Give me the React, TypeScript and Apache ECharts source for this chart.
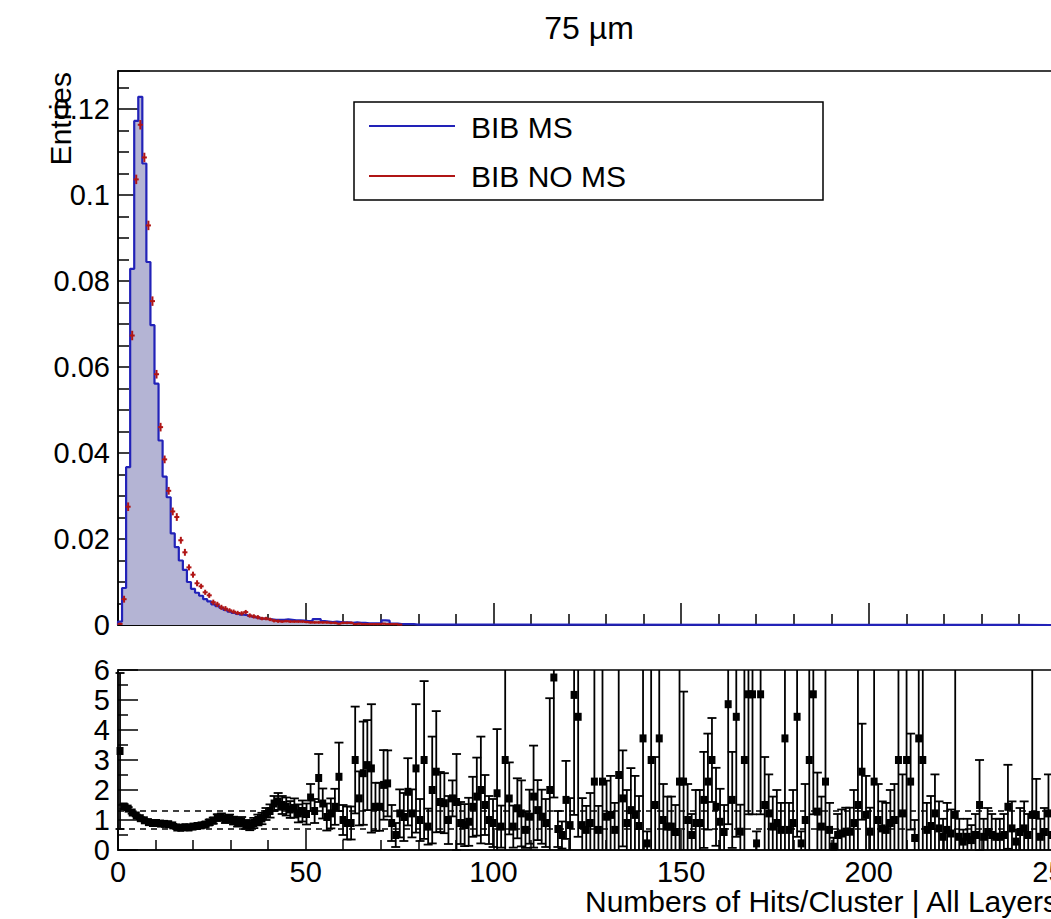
import React, { useEffect, useRef } from "react";
import * as echarts from "echarts";

// ---------- data ----------
const TITLE = "75 \u00b5m";
const X_TITLE = "Numbers of Hits/Cluster | All Layers";
const Y_TITLE = "Entries";
const SERIES_NAMES = ["BIB MS", "BIB NO MS"];
const BIN_WIDTH = 1.08;
const X_MIN = 0;
const X_MAX = 250;
const X_INTERVAL = 50;
const TOP_Y_MAX = 0.1288;
const TOP_Y_INTERVAL = 0.02;
const RATIO_Y_MAX = 6;
const RATIO_BANDS = [0.7, 1.3];

// BIB MS (blue, filled histogram), per bin
const BLUE_MS = [
  0.0008, 0.0086, 0.0367, 0.0828, 0.1172, 0.1228, 0.1073, 0.0844, 0.0697, 0.0561,
  0.0429, 0.0345, 0.0297, 0.0213, 0.0181, 0.015, 0.0128, 0.01, 0.0084, 0.0075,
  0.0068, 0.006, 0.0055, 0.0048, 0.0044, 0.004, 0.0035, 0.0031, 0.0028, 0.0026,
  0.0024, 0.0023, 0.0021, 0.0019, 0.0017, 0.0015, 0.0014, 0.0013, 0.0012, 0.0012,
  0.0012, 0.0013, 0.0012, 0.0011, 0.0011, 0.001, 0.0009, 0.0009, 0.0014, 0.0014,
  0.0009, 0.0008, 0.0007, 0.0008, 0.0007, 0.0006, 0.0006, 0.0005, 0.0006, 0.0005,
  0.0005, 0.0004, 0.0004, 0.0004, 0.0004, 0.0011, 0.001, 0.0003, 0.0003, 0.0002,
  0.0002, 0.0002, 0.0002, 0.0001, 0.0001, 0.0001, 0.0001, 0.0001, 0.0001, 0.0001,
];

// BIB NO MS (red points), per bin
const RED_NO_MS = [
  0.00025, 0.006, 0.0275, 0.0673, 0.1036, 0.1163, 0.1087, 0.0929, 0.0753, 0.0583,
  0.046, 0.0385, 0.0312, 0.0264, 0.0251, 0.0197, 0.0169, 0.0134, 0.0117, 0.0097,
  0.009, 0.0076, 0.0069, 0.0053, 0.0048, 0.0041, 0.0038, 0.0034, 0.0031, 0.0028,
  0.0027, 0.003, 0.0022, 0.002, 0.0018, 0.0015, 0.0015, 0.0013, 0.001, 0.0009,
  0.0008, 0.0009, 0.0008, 0.0008, 0.0008, 0.0008, 0.0007, 0.0006, 0.0006, 0.0006,
  0.0006, 0.0006, 0.0005, 0.0005, 0.0003, 0.0005, 0.0005, 0.0005, 0.0002, 0.0003,
  0.0002, 0.0002, 0.0002, 0.0002, 0.0002, 0.0003, 0.0002, 0.0002, 0.0002, 0.0001,
];
const RED_ERR = [
  0.0003, 0.0008, 0.001, 0.0011, 0.0011, 0.0011, 0.0011, 0.0011, 0.0011, 0.001,
  0.001, 0.0009, 0.0009, 0.0009, 0.0009, 0.0008, 0.0008, 0.0007, 0.0007, 0.0007,
  0.0006, 0.0006, 0.0006, 0.0006, 0.0006, 0.0006, 0.0006, 0.0005, 0.0005, 0.0005,
  0.0005, 0.0005, 0.0005, 0.0005, 0.0005, 0.0004, 0.0004, 0.0004, 0.0004, 0.0004,
  0.0003, 0.0003, 0.0003, 0.0003, 0.0003, 0.0003, 0.0003, 0.0003, 0.0003, 0.0003,
  0.0003, 0.0003, 0.0003, 0.0003, 0.0002, 0.0003, 0.0003, 0.0003, 0.0002, 0.0002,
  0.0002, 0.0002, 0.0002, 0.0002, 0.0002, 0.0002, 0.0002, 0.0002, 0.0002, 0.0001,
];

// ratio MS / NO MS, per bin
const RATIO = [
  3.3, 1.45, 1.38, 1.25, 1.15, 1.06, 0.99, 0.93, 0.9, 0.9,
  0.88, 0.87, 0.86, 0.82, 0.75, 0.74, 0.76, 0.75, 0.78, 0.8,
  0.82, 0.85, 0.92, 0.98, 1.08, 1.1, 1.02, 1.05, 0.98, 0.92,
  0.95, 0.85, 0.82, 0.9, 1.0, 1.05, 1.2, 1.3, 1.55, 1.62,
  1.5, 1.45, 1.35, 1.4, 1.22, 1.3, 1.2, 1.75, 1.3, 2.4,
  1.55, 1.1, 1.22, 1.44, 2.44, 1.0, 0.9, 0.9, 3.0, 1.72,
  2.56, 2.83, 2.72, 1.44, 1.44, 2.17, 2.22, 0.9, 0.5, 1.22,
  1.1, 1.94, 1.22, 2.72, 1.0, 3.0, 0.78, 2.0, 2.61, 1.6,
  1.56, 1.0, 1.72, 1.6, 0.9, 0.83, 0.94, 1.44, 1.78, 2.0,
  1.5, 1.0, 0.9, 1.89, 0.78, 3.0, 1.72, 0.78, 1.39, 1.22,
  0.67, 1.11, 1.78, 1.33, 1.11, 0.9, 2.0, 5.75, 0.7, 0.5,
  1.67, 0.83, 5.17, 4.44, 0.83, 0.67, 0.9, 2.28, 0.67, 2.28,
  1.11, 1.17, 0.67, 2.5, 1.72, 0.9, 1.33, 1.17, 0.8, 3.72,
  0.22, 3.0, 1.5, 3.72, 1.0, 0.78, 0.78, 0.6, 2.28, 2.28,
  1.0, 0.5, 0.9, 0.9, 1.67, 2.28, 3.0, 1.44, 0.94, 0.6,
  4.86, 1.67, 4.44, 0.61, 3.0, 5.19, 5.19, 0.22, 5.19, 1.5,
  1.22, 0.78, 0.9, 0.67, 3.72, 0.67, 0.9, 4.44, 0.22, 1.0,
  3.0, 5.19, 1.28, 0.78, 2.28, 0.67, 0.11, 0.5, 0.55, 0.61,
  0.61, 0.9, 1.5, 2.61, 1.17, 0.61, 2.28, 1.0, 0.72, 0.67,
  0.9, 1.0, 3.0, 1.22, 3.0, 2.28, 0.4, 3.72, 3.0, 0.67,
  0.8, 1.22, 0.72, 0.44, 0.67, 0.55, 1.17, 0.44, 0.28, 0.44,
  0.33, 0.5, 1.5, 0.44, 0.6, 0.5, 0.44, 0.44, 0.5, 1.44,
  0.72, 0.28, 0.6, 0.72, 0.5, 1.17, 1.17, 0.44, 0.6, 1.22, 0.5,
];
const RATIO_ERR = [
  2.6, 0.08, 0.05, 0.04, 0.03, 0.03, 0.03, 0.03, 0.03, 0.03,
  0.04, 0.04, 0.04, 0.05, 0.05, 0.05, 0.06, 0.06, 0.07, 0.07,
  0.08, 0.08, 0.09, 0.1, 0.11, 0.12, 0.12, 0.13, 0.13, 0.14,
  0.15, 0.15, 0.16, 0.17, 0.18, 0.19, 0.2, 0.22, 0.25, 0.28,
  0.3, 0.3, 0.28, 0.32, 0.3, 0.35, 0.35, 0.45, 0.4, 0.8,
  0.5, 0.45, 0.5, 0.6, 1.14, 0.5, 0.55, 0.55, 1.78, 0.9,
  1.72, 1.5, 2.14, 0.8, 0.8, 1.16, 1.1, 0.6, 0.4, 0.8,
  0.8, 1.12, 0.8, 2.14, 0.7, 2.63, 0.6, 1.78, 2.02, 1.0,
  1.0, 0.8, 0.6, 1.6, 0.7, 0.7, 0.8, 1.0, 1.3, 1.78,
  1.0, 0.8, 0.8, 2.14, 0.7, 3.3, 1.2, 0.7, 1.0, 1.1,
  0.6, 0.9, 1.7, 1.0, 0.9, 0.8, 3.06, 4.0, 0.6, 0.45,
  1.3, 0.9, 4.0, 4.0, 0.9, 0.8, 1.0, 4.0, 0.8, 4.0,
  1.2, 1.3, 0.9, 4.0, 1.6, 1.1, 1.4, 1.3, 1.0, 4.0,
  0.4, 4.0, 1.6, 4.0, 1.2, 1.0, 1.0, 0.9, 4.0, 3.0,
  1.2, 0.7, 1.1, 1.1, 1.6, 1.6, 1.4, 1.3, 1.1, 0.9,
  4.0, 1.6, 4.0, 0.9, 4.0, 4.0, 4.0, 0.4, 4.0, 1.6,
  1.3, 1.0, 1.1, 0.9, 4.0, 0.9, 1.1, 4.0, 0.4, 1.2,
  4.0, 4.0, 1.3, 1.0, 4.0, 0.9, 0.3, 0.7, 0.8, 0.8,
  0.8, 1.1, 4.6, 1.6, 1.3, 0.8, 4.0, 1.2, 0.9, 0.9,
  1.1, 1.2, 4.0, 1.3, 4.0, 1.6, 0.6, 4.0, 4.0, 0.9,
  1.0, 1.3, 0.9, 0.6, 0.9, 0.8, 4.9, 0.6, 0.4, 0.6,
  0.5, 0.7, 1.5, 0.6, 0.8, 0.7, 0.6, 0.6, 0.7, 1.4,
  0.9, 0.4, 0.8, 0.9, 0.7, 4.9, 1.2, 0.6, 0.8, 1.3, 0.7,
];

// ---------- styles ----------
const FONT = "'Liberation Sans', Arial, Helvetica, sans-serif";
const FS_LABEL = 29;
const FS_TEXT = 30;
const BLUE = "#2222b8";
const BLUE_FILL = "#b4b4d4";
const RED = "#b01515";
const BLACK = "#000";

function buildOption() {
  const stepData: number[][] = [[X_MIN, 0]];
  BLUE_MS.forEach((v, k) => stepData.push([k * BIN_WIDTH, v]));
  stepData.push([BLUE_MS.length * BIN_WIDTH, 0]);
  stepData.push([X_MAX, 0]);

  const redData = RED_NO_MS.map((v, k) => [k, v, RED_ERR[k]]);
  const ratioData = RATIO.map((v, k) => [k, v, RATIO_ERR[k]]);

  const axisLine = { show: true, lineStyle: { color: BLACK, width: 1.5 } };
  const label = { color: BLACK, fontFamily: FONT, fontSize: FS_LABEL };

  const fmtTop = (v: number) => (v === 0 ? "0" : String(+v.toFixed(3)));

  return {
    animation: false,
    backgroundColor: "#fff",
    grid: [
      { left: 118, top: 71, width: 938.5, height: 554, show: true, borderColor: BLACK, borderWidth: 1.5, backgroundColor: "transparent", outerBoundsMode: "none", containLabel: false },
      { left: 118, top: 670, width: 938.5, height: 180, show: true, borderColor: BLACK, borderWidth: 1.5, backgroundColor: "transparent", outerBoundsMode: "none", containLabel: false },
    ],
    xAxis: [
      {
        type: "value", gridIndex: 0, min: X_MIN, max: X_MAX, interval: X_INTERVAL,
        axisLine, axisLabel: { show: false },
        axisTick: { show: true, inside: true, length: 22, lineStyle: { color: BLACK, width: 1.5 } },
        minorTick: { show: true, splitNumber: 5, length: 11, lineStyle: { color: BLACK, width: 1.5 } },
        splitLine: { show: false },
      },
      {
        type: "value", gridIndex: 1, min: X_MIN, max: X_MAX, interval: X_INTERVAL,
        axisLine,
        axisLabel: { ...label, margin: 7 },
        axisTick: { show: true, inside: true, length: 20, lineStyle: { color: BLACK, width: 1.5 } },
        minorTick: { show: true, splitNumber: 5, length: 10, lineStyle: { color: BLACK, width: 1.5 } },
        splitLine: { show: false },
      },
    ],
    yAxis: [
      {
        type: "value", gridIndex: 0, min: 0, max: TOP_Y_MAX, interval: TOP_Y_INTERVAL,
        axisLine,
        axisLabel: { ...label, margin: 8, formatter: fmtTop, showMaxLabel: false },
        axisTick: { show: true, inside: true, length: 22, lineStyle: { color: BLACK, width: 1.5 } },
        minorTick: { show: true, splitNumber: 4, length: 11, lineStyle: { color: BLACK, width: 1.5 } },
        splitLine: { show: false },
      },
      {
        type: "value", gridIndex: 1, min: 0, max: RATIO_Y_MAX, interval: 1,
        axisLine,
        axisLabel: { ...label, margin: 8 },
        axisTick: { show: true, inside: true, length: 20, lineStyle: { color: BLACK, width: 1.5 } },
        minorTick: { show: true, splitNumber: 2, length: 10, lineStyle: { color: BLACK, width: 1.5 } },
        splitLine: { show: false },
      },
    ],
    series: [
      {
        name: SERIES_NAMES[0],
        type: "line", xAxisIndex: 0, yAxisIndex: 0, step: "end",
        data: stepData, symbol: "none",
        lineStyle: { color: BLUE, width: 2.2 },
        areaStyle: { color: BLUE_FILL, opacity: 1 },
        z: 2,
      },
      {
        name: SERIES_NAMES[1],
        type: "custom", xAxisIndex: 0, yAxisIndex: 0, z: 3,
        data: redData,
        encode: { x: 0, y: 1 },
        renderItem: (params: any, api: any) => {
          const k = api.value(0), v = api.value(1), e = api.value(2);
          const xc = (k + 0.5) * BIN_WIDTH;
          const pL = api.coord([k * BIN_WIDTH, v]);
          const pR = api.coord([(k + 1) * BIN_WIDTH, v]);
          const pLo = api.coord([xc, Math.max(0, v - e)]);
          const pHi = api.coord([xc, v + e]);
          const st = { stroke: RED, lineWidth: 2 };
          return {
            type: "group",
            children: [
              { type: "line", shape: { x1: pL[0] - 0.5, y1: pL[1], x2: pR[0] + 0.5, y2: pR[1] }, style: st },
              { type: "line", shape: { x1: pLo[0], y1: pLo[1], x2: pHi[0], y2: pHi[1] }, style: st },
            ],
          };
        },
      },
      {
        name: "ratio",
        type: "custom", xAxisIndex: 1, yAxisIndex: 1, z: 3,
        data: ratioData,
        encode: { x: 0, y: 1 },
        renderItem: (params: any, api: any) => {
          const k = api.value(0), v = api.value(1), e = api.value(2);
          const xc = (k + 0.5) * BIN_WIDTH;
          const lo = v - e, hi = v + e;
          const pLo = api.coord([xc, Math.max(0, lo)]);
          const pHi = api.coord([xc, Math.min(RATIO_Y_MAX, hi)]);
          const pC = api.coord([xc, v]);
          const pL = api.coord([k * BIN_WIDTH, v]);
          const pR = api.coord([(k + 1) * BIN_WIDTH, v]);
          const st = { stroke: BLACK, lineWidth: 1.8 };
          const children: any[] = [
            { type: "line", shape: { x1: pLo[0], y1: pLo[1], x2: pHi[0], y2: pHi[1] }, style: st },
          ];
          if (hi <= RATIO_Y_MAX) children.push({ type: "line", shape: { x1: pHi[0] - 4.5, y1: pHi[1], x2: pHi[0] + 4.5, y2: pHi[1] }, style: st });
          if (lo >= 0) children.push({ type: "line", shape: { x1: pLo[0] - 4.5, y1: pLo[1], x2: pLo[0] + 4.5, y2: pLo[1] }, style: st });
          if (v <= RATIO_Y_MAX) {
            children.push({ type: "line", shape: { x1: pL[0], y1: pL[1], x2: pR[0], y2: pR[1] }, style: st });
            children.push({ type: "rect", shape: { x: pC[0] - 3.5, y: pC[1] - 4, width: 7, height: 8 }, style: { fill: BLACK } });
          }
          return { type: "group", children };
        },
      },
      ...RATIO_BANDS.map((lvl) => ({
        type: "line", xAxisIndex: 1, yAxisIndex: 1, z: 2,
        data: [[X_MIN, lvl], [X_MAX, lvl]], symbol: "none",
        lineStyle: { color: BLACK, width: 1.5, type: [6, 5] },
      })),
    ],
    graphic: [
      { type: "text", x: 589, y: 28, style: { text: TITLE, fontFamily: FONT, fontSize: 32, fill: BLACK, textAlign: "center", textVerticalAlign: "middle" } },
      { type: "text", x: 60, y: 72, rotation: Math.PI / 2, style: { text: Y_TITLE, fontFamily: FONT, fontSize: FS_TEXT, fill: BLACK, textAlign: "right", textVerticalAlign: "middle" } },
      { type: "text", x: 585, y: 901, style: { text: X_TITLE, fontFamily: FONT, fontSize: FS_TEXT, fill: BLACK, textAlign: "left", textVerticalAlign: "middle" } },
      {
        type: "group",
        children: [
          { type: "rect", shape: { x: 354, y: 102, width: 469, height: 98 }, style: { fill: "#fff", stroke: BLACK, lineWidth: 1.5 } },
          { type: "line", shape: { x1: 369, y1: 126, x2: 455, y2: 126 }, style: { stroke: BLUE, lineWidth: 2 } },
          { type: "line", shape: { x1: 369, y1: 176, x2: 455, y2: 176 }, style: { stroke: RED, lineWidth: 2 } },
          { type: "text", x: 471, y: 127, style: { text: SERIES_NAMES[0], fontFamily: FONT, fontSize: FS_TEXT, fill: BLACK, textVerticalAlign: "middle" } },
          { type: "text", x: 471, y: 176, style: { text: SERIES_NAMES[1], fontFamily: FONT, fontSize: FS_TEXT, fill: BLACK, textVerticalAlign: "middle" } },
        ],
      },
    ],
  };
}

export default function App() {
  const ref = useRef<HTMLDivElement>(null);
  useEffect(() => {
    if (!ref.current) return;
    const chart = echarts.init(ref.current, null, { renderer: "svg" });
    chart.setOption(buildOption() as any);
    return () => chart.dispose();
  }, []);
  return (
    <div
      ref={ref}
      style={{ position: "absolute", left: 0, top: 0, width: 1051, height: 919, background: "#fff" }}
    />
  );
}
